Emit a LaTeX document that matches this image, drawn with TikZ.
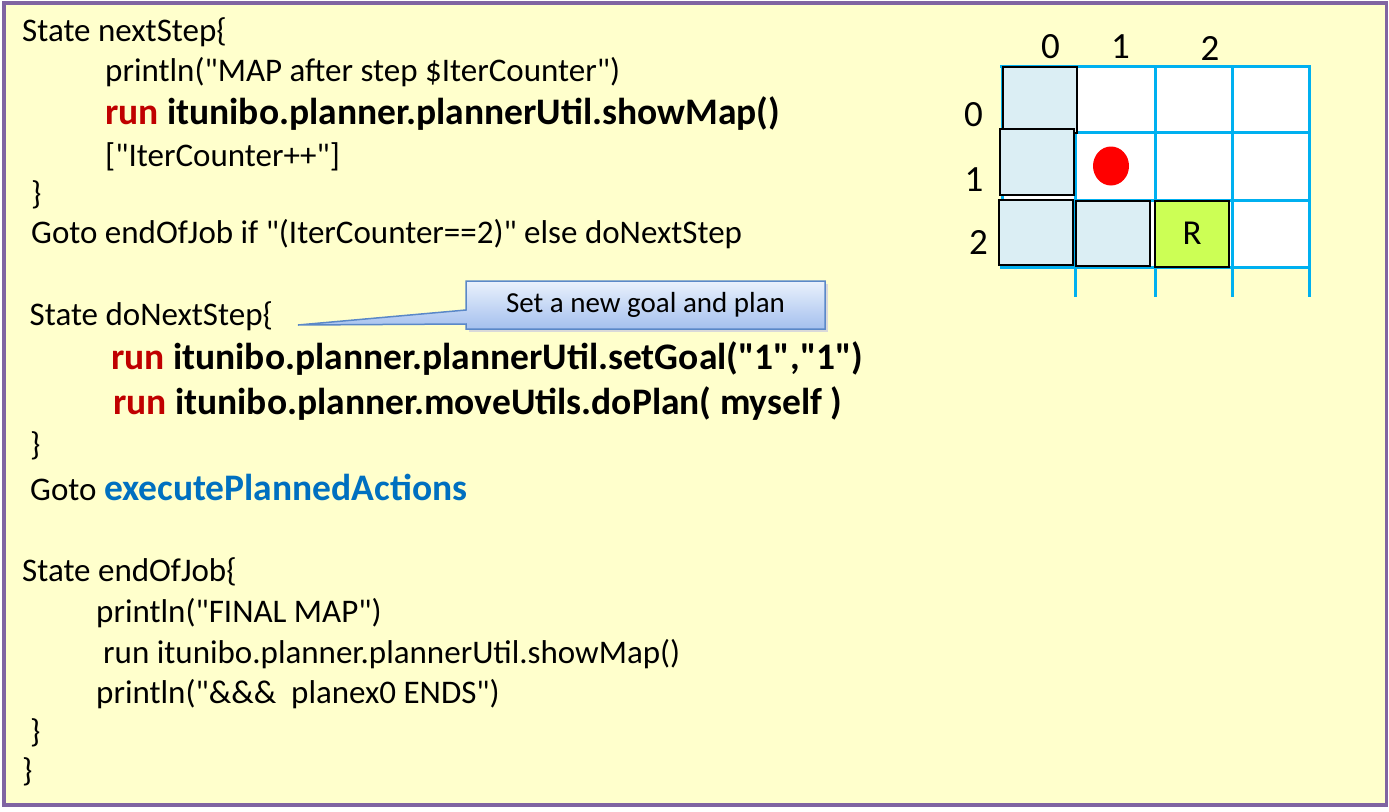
\documentclass[tikz,border=0pt]{standalone}
\usepackage{fontspec}
\setmainfont{Carlito}[Ligatures=TeXOff]
\usetikzlibrary{calc}
\definecolor{bgyel}{HTML}{FFFFCC}
\definecolor{framecol}{HTML}{8064A2}
\definecolor{runred}{HTML}{C00000}
\definecolor{kwblue}{HTML}{0070C0}
\definecolor{gridblue}{HTML}{00B0F0}
\definecolor{cellblue}{HTML}{DBEEF4}
\definecolor{rgreen}{HTML}{CCFF55}
\definecolor{callborder}{HTML}{5A88C8}
\definecolor{calltop}{HTML}{EAF1FC}
\definecolor{callbot}{HTML}{A4C0EE}
\begin{document}
\begin{tikzpicture}[x=1pt,y=-1pt,
  code/.style={anchor=base west, inner sep=0pt, font=\fontsize{33}{40}\selectfont},
  boldcode/.style={anchor=base west, inner sep=0pt, font=\fontsize{37.5}{45}\selectfont\bfseries},
  gridline/.style={draw=gridblue, line width=3pt},
  cellbox/.style={draw=black, line width=2pt, fill=cellblue},
  gridlabel/.style={inner sep=0pt, font=\fontsize{37}{44}\selectfont}]
\useasboundingbox (0,0) rectangle (1389,811);
\draw[framecol, line width=3.5pt, fill=bgyel] (4,3) rectangle (1386.5,805);

% code text
\node[code] (l1) at (22,41.7) {State nextStep\{};
\node[code] (l2) at (105,81.7) {println("MAP after step \$IterCounter")};
\node[boldcode] (l3) at (105,124.3) {\textcolor{runred}{run} itunibo.planner.plannerUtil.showMap()};
\node[code] (l4) at (105,166.7) {["IterCounter++"]};
\node[code] (l5) at (31,204) {\}};
\node[code] (l6) at (31,243.3) {Goto endOfJob if "(IterCounter==2)" else doNextStep};
\node[code] (l7) at (29.5,325) {State doNextStep\{};
\node[boldcode] (l8) at (111,369.3) {\textcolor{runred}{run} itunibo.planner.plannerUtil.setGoal("1","1")};
\node[boldcode] (l9) at (113,414) {\textcolor{runred}{run} itunibo.planner.moveUtils.doPlan( myself )};
\node[code] (l10) at (30,455) {\}};
\node[code] (l11) at (30,500) {Goto \textcolor{kwblue}{\fontsize{37.5}{45}\selectfont\bfseries executePlannedActions}};
\node[code] (l12) at (22,581.7) {State endOfJob\{};
\node[code] (l13) at (96,622) {println("FINAL MAP")};
\node[code] (l14) at (103,663) {run itunibo.planner.plannerUtil.showMap()};
\node[code] (l15) at (96,703) {println("\&\&\& \ planex0 ENDS")};
\node[code] (l16) at (30,742) {\}};
\node[code] (l17) at (22,781) {\}};

% callout
\coordinate (tip) at (298,325);
\fill[black!15] (469,284) rectangle (828,332);
\draw[callborder, line width=1.5pt, top color=calltop, bottom color=callbot]
  (466,281) -- (825,281) -- (825,329) -- (466,329) -- (466,324) -- (tip) -- (466,310) -- cycle;
\node[inner sep=0pt, font=\fontsize{29}{35}\selectfont] (callout) at (645.5,305) {Set a new goal and plan};

% grid
\fill[white] (1002,66) rectangle (1309,267);
\foreach \x in {1075,1155,1232,1309} \draw[gridline] (\x,66) -- (\x,297);
\draw[gridline] (1002,66) -- (1002,267);
\foreach \y in {66,132,200,267} \draw[gridline] (1000,\y) -- (1310.5,\y);
\node[cellbox, minimum width=74pt, minimum height=66pt, inner sep=0pt] (c00) at (1039.5,99.5) {};
\node[cellbox, minimum width=74pt, minimum height=66pt, inner sep=0pt] (c10) at (1037,162) {};
\node[cellbox, minimum width=74pt, minimum height=65pt, inner sep=0pt] (c20) at (1036,232.5) {};
\node[cellbox, minimum width=74pt, minimum height=65pt, inner sep=0pt] (c21) at (1113,233) {};
\node[draw=black, line width=2pt, fill=rgreen, minimum width=74pt, minimum height=66pt, inner sep=0pt, font=\fontsize{35}{42}\selectfont] (robot) at (1192,233.5) {R};
\fill[red] (1111,166) ellipse [x radius=18, y radius=19.5];

\node[gridlabel] (cx0) at (1050.5,46.5) {0};
\node[gridlabel] (cx1) at (1120.5,46.5) {1};
\node[gridlabel] (cx2) at (1210,48) {2};
\node[gridlabel] (ry0) at (973.5,115) {0};
\node[gridlabel] (ry1) at (974,180) {1};
\node[gridlabel] (ry2) at (978.5,242) {2};
\end{tikzpicture}
\end{document}
